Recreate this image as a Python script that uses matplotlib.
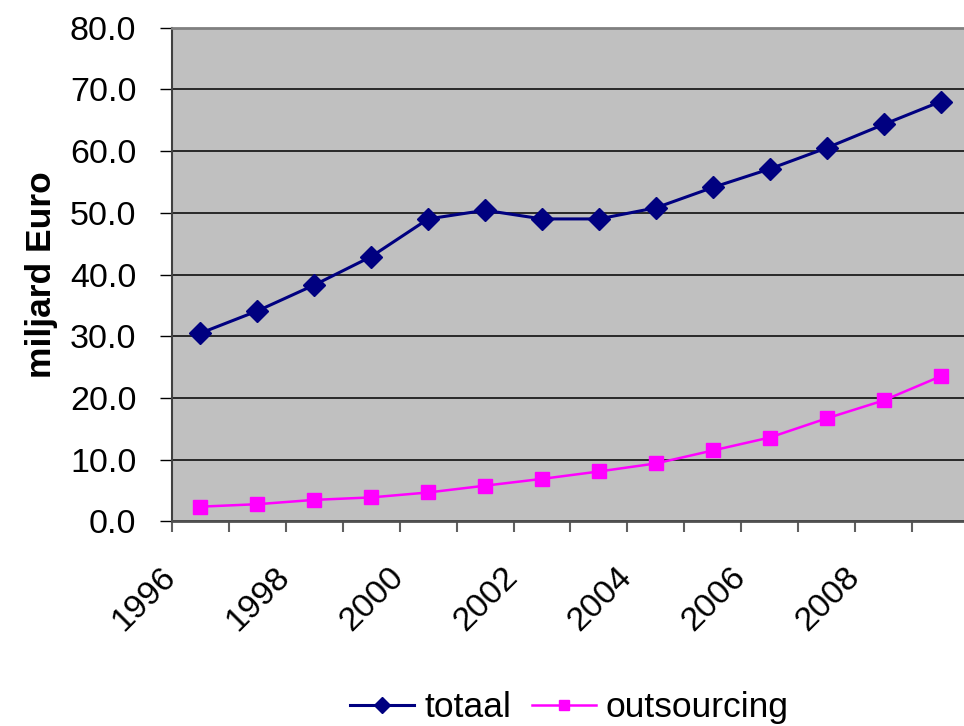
import matplotlib.pyplot as plt
from matplotlib.ticker import FormatStrFormatter
from matplotlib.transforms import ScaledTranslation

plt.rcParams['font.family'] = ['Liberation Sans', 'DejaVu Sans']

jaren = [1996, 1997, 1998, 1999, 2000, 2001, 2002, 2003, 2004, 2005, 2006, 2007, 2008, 2009]
totaal = [30.5, 34.1, 38.3, 42.9, 49.0, 50.4, 49.0, 49.0, 50.8, 54.1, 57.1, 60.5, 64.3, 68.0]
outsourcing = [2.4, 2.8, 3.5, 3.9, 4.7, 5.8, 6.9, 8.1, 9.4, 11.5, 13.6, 16.7, 19.6, 23.5]

fs = 24.5

fig = plt.figure(figsize=(9.64, 7.26), dpi=100)
ax = fig.add_axes([0.1784, 0.2817, 0.8268, 0.6804])
ax.set_facecolor('#C0C0C0')

x = [i + 0.5 for i in range(len(jaren))]
ax.plot(x, totaal, color='#000080', lw=2.2, marker='D', ms=11, label='totaal')
ax.plot(x, outsourcing, color='#FF00FF', lw=1.8, marker='s', ms=10, label='outsourcing')

ax.set_yticks(range(0, 81, 10))
ax.yaxis.set_major_formatter(FormatStrFormatter('%.1f'))
ax.grid(axis='y', color='black', lw=1.1)
ax.set_axisbelow(True)

# tick marks op de grenzen, labels op elk tweede jaar (iets naar links, zoals in Excel)
ax.set_xticks(range(len(jaren) + 1))
ax.set_xticklabels([])
verschuif = ax.get_xaxis_transform() + ScaledTranslation(-0.40, -0.40, fig.dpi_scale_trans)
for i in range(0, len(jaren), 2):
    ax.text(x[i], 0, str(jaren[i]), transform=verschuif, fontsize=fs,
            rotation=45, ha='right', va='top', rotation_mode='anchor')
ax.set_xlim(0, len(jaren))
ax.set_ylim(0, 80)
ax.tick_params(axis='x', which='major', direction='out', length=8, width=1.5, color='#606060')
ax.tick_params(axis='y', direction='out', length=8.6, width=1, color='black', labelsize=fs, pad=17)

for s in ['top', 'right']:
    ax.spines[s].set_color('#808080')
    ax.spines[s].set_linewidth(2)
ax.spines['bottom'].set_color('#505050')
ax.spines['bottom'].set_linewidth(2)
ax.spines['left'].set_color('#404040')
ax.spines['left'].set_linewidth(1.5)

ax.set_ylabel('miljard Euro', fontsize=fs + 1, fontweight='bold', labelpad=8.5)

fig.legend(loc='center', bbox_to_anchor=(0.591, 0.025), ncol=2, frameon=False,
           fontsize=fs + 1, handlelength=1.8, handletextpad=0.28, columnspacing=0.6,
           markerscale=0.7)

fig.savefig('out.png', dpi=100)
